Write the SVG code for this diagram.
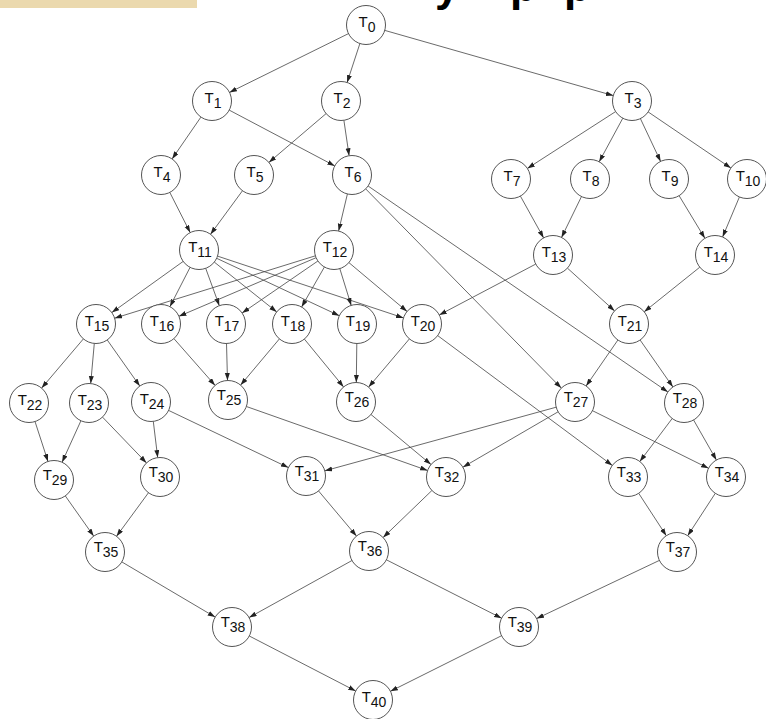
<svg xmlns="http://www.w3.org/2000/svg" width="766" height="719" viewBox="0 0 766 719">
<style>
.n circle{fill:#fff;stroke:#555;stroke-width:1}
.n text{font-family:"Liberation Sans",Arial,sans-serif;font-size:15px;fill:#111;text-anchor:middle}
.n tspan.s{font-size:14px}
#edges line{stroke:#444;stroke-width:0.8;marker-end:url(#ah)}
.title{font-family:"Liberation Sans",Arial,sans-serif;font-weight:bold;font-size:44px;fill:#000}
</style>
<defs>
<marker id="ah" markerUnits="userSpaceOnUse" markerWidth="8" markerHeight="6" refX="7.5" refY="2.5" orient="auto">
<path d="M0,0 L7.5,2.5 L0,5 z" fill="#222"/>
</marker>
</defs>
<rect x="0" y="0" width="197" height="8" fill="#EBD9AE"/>
<text class="title" x="435 510 564" y="1">ypp</text>
<g id="edges">
<line x1="348.5" y1="33.6" x2="229.5" y2="92.4"/>
<line x1="359.9" y1="43.5" x2="347.1" y2="82.5"/>
<line x1="384.8" y1="30.4" x2="613.3" y2="95.6"/>
<line x1="200.9" y1="117.1" x2="172.1" y2="158.9"/>
<line x1="229.2" y1="110.1" x2="334.8" y2="165.9"/>
<line x1="326.1" y1="113.6" x2="268.9" y2="162.4"/>
<line x1="343.9" y1="120.3" x2="349.1" y2="155.7"/>
<line x1="615.6" y1="111.6" x2="527.4" y2="168.4"/>
<line x1="622.8" y1="118.2" x2="599.2" y2="161.8"/>
<line x1="640.4" y1="118.6" x2="660.6" y2="161.4"/>
<line x1="648.1" y1="111.9" x2="730.9" y2="168.1"/>
<line x1="169.8" y1="192.4" x2="190.2" y2="232.6"/>
<line x1="242.5" y1="190.7" x2="210.5" y2="234.3"/>
<line x1="347.4" y1="194.0" x2="338.6" y2="231.0"/>
<line x1="365.7" y1="188.9" x2="561.3" y2="388.1"/>
<line x1="368.1" y1="186.0" x2="667.9" y2="392.0"/>
<line x1="520.4" y1="196.1" x2="543.6" y2="237.9"/>
<line x1="581.5" y1="196.5" x2="561.5" y2="237.5"/>
<line x1="679.1" y1="195.7" x2="704.9" y2="238.3"/>
<line x1="739.4" y1="197.0" x2="722.6" y2="237.0"/>
<line x1="183.2" y1="261.4" x2="111.8" y2="312.6"/>
<line x1="190.1" y1="267.3" x2="169.9" y2="306.7"/>
<line x1="205.7" y1="268.3" x2="219.3" y2="305.7"/>
<line x1="214.3" y1="262.1" x2="276.7" y2="311.9"/>
<line x1="216.7" y1="258.3" x2="339.3" y2="315.7"/>
<line x1="217.5" y1="256.1" x2="403.5" y2="317.9"/>
<line x1="315.4" y1="255.8" x2="114.6" y2="318.2"/>
<line x1="316.1" y1="257.7" x2="178.9" y2="316.3"/>
<line x1="317.9" y1="261.0" x2="242.1" y2="313.0"/>
<line x1="324.4" y1="267.0" x2="301.6" y2="307.0"/>
<line x1="339.8" y1="268.6" x2="351.2" y2="305.4"/>
<line x1="348.9" y1="262.6" x2="407.1" y2="311.5"/>
<line x1="535.7" y1="264.1" x2="439.3" y2="314.9"/>
<line x1="567.4" y1="268.1" x2="614.6" y2="310.9"/>
<line x1="699.8" y1="267.2" x2="644.2" y2="311.8"/>
<line x1="83.4" y1="338.9" x2="41.6" y2="388.1"/>
<line x1="94.3" y1="343.4" x2="90.7" y2="383.6"/>
<line x1="107.2" y1="339.9" x2="139.8" y2="386.1"/>
<line x1="173.9" y1="338.6" x2="215.1" y2="385.4"/>
<line x1="226.5" y1="343.5" x2="227.5" y2="380.5"/>
<line x1="279.4" y1="338.9" x2="240.6" y2="385.1"/>
<line x1="304.4" y1="339.1" x2="343.6" y2="386.9"/>
<line x1="356.8" y1="343.5" x2="356.3" y2="382.5"/>
<line x1="409.4" y1="338.9" x2="368.6" y2="387.1"/>
<line x1="437.7" y1="335.6" x2="612.3" y2="465.4"/>
<line x1="617.9" y1="340.0" x2="586.1" y2="386.0"/>
<line x1="640.1" y1="340.0" x2="672.9" y2="387.0"/>
<line x1="35.0" y1="421.5" x2="48.0" y2="461.5"/>
<line x1="80.9" y1="420.8" x2="62.1" y2="462.2"/>
<line x1="102.5" y1="417.1" x2="146.5" y2="462.9"/>
<line x1="153.3" y1="421.4" x2="157.7" y2="457.6"/>
<line x1="168.6" y1="410.4" x2="288.4" y2="467.6"/>
<line x1="246.4" y1="406.5" x2="427.6" y2="470.5"/>
<line x1="371.0" y1="414.5" x2="431.0" y2="464.5"/>
<line x1="556.2" y1="407.2" x2="324.8" y2="470.8"/>
<line x1="558.1" y1="411.8" x2="462.9" y2="467.2"/>
<line x1="592.5" y1="410.7" x2="708.5" y2="468.3"/>
<line x1="672.2" y1="418.5" x2="639.8" y2="461.5"/>
<line x1="693.6" y1="420.0" x2="716.4" y2="460.0"/>
<line x1="65.3" y1="495.9" x2="93.7" y2="536.1"/>
<line x1="148.5" y1="492.7" x2="116.5" y2="536.3"/>
<line x1="318.5" y1="490.9" x2="356.5" y2="536.1"/>
<line x1="431.9" y1="490.5" x2="383.1" y2="537.5"/>
<line x1="638.7" y1="493.3" x2="666.3" y2="535.7"/>
<line x1="715.3" y1="493.3" x2="687.7" y2="535.7"/>
<line x1="121.8" y1="561.9" x2="215.2" y2="617.1"/>
<line x1="352.0" y1="560.5" x2="249.1" y2="617.5"/>
<line x1="386.4" y1="559.8" x2="501.6" y2="618.2"/>
<line x1="659.4" y1="560.4" x2="536.6" y2="618.6"/>
<line x1="249.3" y1="636.0" x2="355.7" y2="691.0"/>
<line x1="501.6" y1="635.7" x2="390.4" y2="691.3"/>
</g>
<g id="T0" class="n"><circle cx="366" cy="25" r="19.5"/><text x="367" y="27">T<tspan class="s" dy="5">0</tspan></text></g>
<g id="T1" class="n"><circle cx="212" cy="101" r="19.5"/><text x="213" y="103">T<tspan class="s" dy="5">1</tspan></text></g>
<g id="T2" class="n"><circle cx="341" cy="101" r="19.5"/><text x="342" y="103">T<tspan class="s" dy="5">2</tspan></text></g>
<g id="T3" class="n"><circle cx="632" cy="101" r="19.5"/><text x="633" y="103">T<tspan class="s" dy="5">3</tspan></text></g>
<g id="T4" class="n"><circle cx="161" cy="175" r="19.5"/><text x="162" y="177">T<tspan class="s" dy="5">4</tspan></text></g>
<g id="T5" class="n"><circle cx="254" cy="175" r="19.5"/><text x="255" y="177">T<tspan class="s" dy="5">5</tspan></text></g>
<g id="T6" class="n"><circle cx="352" cy="175" r="19.5"/><text x="353" y="177">T<tspan class="s" dy="5">6</tspan></text></g>
<g id="T7" class="n"><circle cx="511" cy="179" r="19.5"/><text x="512" y="181">T<tspan class="s" dy="5">7</tspan></text></g>
<g id="T8" class="n"><circle cx="590" cy="179" r="19.5"/><text x="591" y="181">T<tspan class="s" dy="5">8</tspan></text></g>
<g id="T9" class="n"><circle cx="669" cy="179" r="19.5"/><text x="670" y="181">T<tspan class="s" dy="5">9</tspan></text></g>
<g id="T10" class="n"><circle cx="747" cy="179" r="19.5"/><text x="748" y="181">T<tspan class="s" dy="5">10</tspan></text></g>
<g id="T11" class="n"><circle cx="199" cy="250" r="19.5"/><text x="200" y="252">T<tspan class="s" dy="5">11</tspan></text></g>
<g id="T12" class="n"><circle cx="334" cy="250" r="19.5"/><text x="335" y="252">T<tspan class="s" dy="5">12</tspan></text></g>
<g id="T13" class="n"><circle cx="553" cy="255" r="19.5"/><text x="554" y="257">T<tspan class="s" dy="5">13</tspan></text></g>
<g id="T14" class="n"><circle cx="715" cy="255" r="19.5"/><text x="716" y="257">T<tspan class="s" dy="5">14</tspan></text></g>
<g id="T15" class="n"><circle cx="96" cy="324" r="19.5"/><text x="97" y="326">T<tspan class="s" dy="5">15</tspan></text></g>
<g id="T16" class="n"><circle cx="161" cy="324" r="19.5"/><text x="162" y="326">T<tspan class="s" dy="5">16</tspan></text></g>
<g id="T17" class="n"><circle cx="226" cy="324" r="19.5"/><text x="227" y="326">T<tspan class="s" dy="5">17</tspan></text></g>
<g id="T18" class="n"><circle cx="292" cy="324" r="19.5"/><text x="293" y="326">T<tspan class="s" dy="5">18</tspan></text></g>
<g id="T19" class="n"><circle cx="357" cy="324" r="19.5"/><text x="358" y="326">T<tspan class="s" dy="5">19</tspan></text></g>
<g id="T20" class="n"><circle cx="422" cy="324" r="19.5"/><text x="423" y="326">T<tspan class="s" dy="5">20</tspan></text></g>
<g id="T21" class="n"><circle cx="629" cy="324" r="19.5"/><text x="630" y="326">T<tspan class="s" dy="5">21</tspan></text></g>
<g id="T22" class="n"><circle cx="29" cy="403" r="19.5"/><text x="30" y="405">T<tspan class="s" dy="5">22</tspan></text></g>
<g id="T23" class="n"><circle cx="89" cy="403" r="19.5"/><text x="90" y="405">T<tspan class="s" dy="5">23</tspan></text></g>
<g id="T24" class="n"><circle cx="151" cy="402" r="19.5"/><text x="152" y="404">T<tspan class="s" dy="5">24</tspan></text></g>
<g id="T25" class="n"><circle cx="228" cy="400" r="19.5"/><text x="229" y="400">T<tspan class="s" dy="5">25</tspan></text></g>
<g id="T26" class="n"><circle cx="356" cy="402" r="19.5"/><text x="357" y="402">T<tspan class="s" dy="5">26</tspan></text></g>
<g id="T27" class="n"><circle cx="575" cy="402" r="19.5"/><text x="576" y="402">T<tspan class="s" dy="5">27</tspan></text></g>
<g id="T28" class="n"><circle cx="684" cy="403" r="19.5"/><text x="685" y="403">T<tspan class="s" dy="5">28</tspan></text></g>
<g id="T29" class="n"><circle cx="54" cy="480" r="19.5"/><text x="55" y="480">T<tspan class="s" dy="5">29</tspan></text></g>
<g id="T30" class="n"><circle cx="160" cy="477" r="19.5"/><text x="161" y="477">T<tspan class="s" dy="5">30</tspan></text></g>
<g id="T31" class="n"><circle cx="306" cy="476" r="19.5"/><text x="307" y="476">T<tspan class="s" dy="5">31</tspan></text></g>
<g id="T32" class="n"><circle cx="446" cy="477" r="19.5"/><text x="447" y="477">T<tspan class="s" dy="5">32</tspan></text></g>
<g id="T33" class="n"><circle cx="628" cy="477" r="19.5"/><text x="629" y="477">T<tspan class="s" dy="5">33</tspan></text></g>
<g id="T34" class="n"><circle cx="726" cy="477" r="19.5"/><text x="727" y="477">T<tspan class="s" dy="5">34</tspan></text></g>
<g id="T35" class="n"><circle cx="105" cy="552" r="19.5"/><text x="106" y="552">T<tspan class="s" dy="5">35</tspan></text></g>
<g id="T36" class="n"><circle cx="369" cy="551" r="19.5"/><text x="370" y="551">T<tspan class="s" dy="5">36</tspan></text></g>
<g id="T37" class="n"><circle cx="677" cy="552" r="19.5"/><text x="678" y="552">T<tspan class="s" dy="5">37</tspan></text></g>
<g id="T38" class="n"><circle cx="232" cy="627" r="19.5"/><text x="233" y="627">T<tspan class="s" dy="5">38</tspan></text></g>
<g id="T39" class="n"><circle cx="519" cy="627" r="19.5"/><text x="520" y="627">T<tspan class="s" dy="5">39</tspan></text></g>
<g id="T40" class="n"><circle cx="373" cy="700" r="19.5"/><text x="374" y="702">T<tspan class="s" dy="5">40</tspan></text></g>
</svg>
